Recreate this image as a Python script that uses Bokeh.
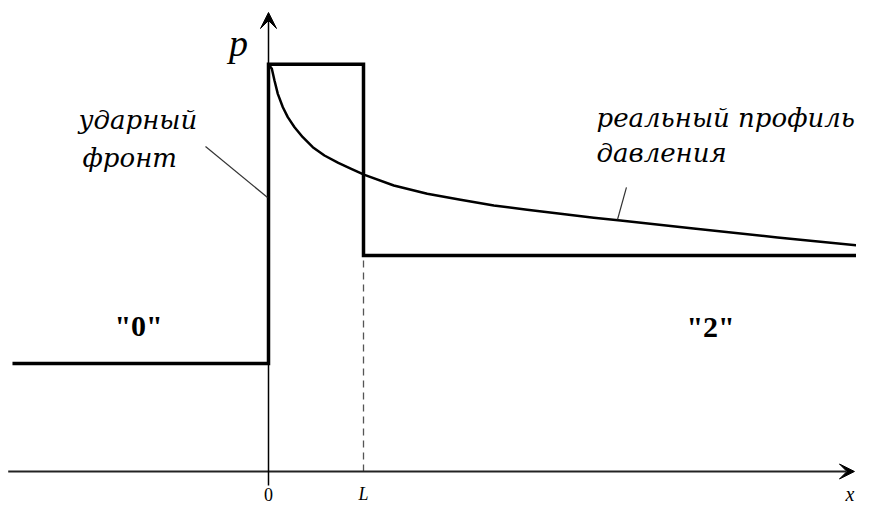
from bokeh.plotting import figure
from bokeh.models import Range1d, Arrow, VeeHead, Label
from bokeh.embed import file_html
from bokeh.resources import INLINE

# Idealised (step) profile: x in units of L, pressure in units of p0
x_step = [-2.695, 0.0, 0.0, 1.0, 1.0, 6.4]
p_step = [1.0, 1.0, 3.77, 3.77, 2.0, 2.0]

x_real = [0.0, 0.035, 0.063, 0.098, 0.151, 0.203, 0.274, 0.361, 0.466, 0.589,
          0.735, 0.871, 1.011, 1.319, 1.671, 2.021, 2.372, 2.723, 3.074, 3.424,
          3.705, 4.474, 5.358, 6.316]
p_real = [3.77, 3.729, 3.62, 3.497, 3.373, 3.281, 3.188, 3.095, 3.003, 2.926,
          2.858, 2.803, 2.747, 2.648, 2.571, 2.516, 2.463, 2.423, 2.386, 2.349,
          2.324, 2.25, 2.167, 2.083]

# Axes extents
x_axis = [-2.74, 6.168]
p_axis = [-0.13, 4.25]

# Dashed marker at x = L
x_L = [1.0, 1.0]
p_L = [0.0, 2.0]

# Leader lines for annotations
lead_shock_x = [-0.663, -0.01]
lead_shock_p = [3.009, 2.537]
lead_real_x = [3.768, 3.674]
lead_real_p = [2.63, 2.333]

# Texts
tick_labels = ["0", "L"]
tick_x = [0.0, 1.0]
region_labels = ['"0"', '"2"']
region_x = [-1.368, 4.653]
region_p = [1.35, 1.34]

SERIF = "Liberation Serif"
ITAL = "DejaVu Serif"

p = figure(width=856, height=506,
           x_range=Range1d(-2.8211, 6.1895), y_range=Range1d(-0.3241, 4.3611),
           x_axis_type=None, y_axis_type=None,
           output_backend="svg", toolbar_location=None, min_border=0)
p.grid.visible = False
p.outline_line_color = None
p.background_fill_color = "white"
p.border_fill_color = "white"

# dashed line at L
p.line(x_L, p_L, line_color="#555555", line_width=1.3, line_dash="7 5")

# axes with arrowheads
p.add_layout(Arrow(end=VeeHead(size=15, fill_color="black", line_color="black"),
                   x_start=x_axis[0], y_start=0.0, x_end=x_axis[1], y_end=0.0,
                   line_color="#222222", line_width=2))
p.add_layout(Arrow(end=VeeHead(size=16, fill_color="black", line_color="black"),
                   x_start=0.0, y_start=p_axis[0], x_end=0.0, y_end=p_axis[1],
                   line_color="black", line_width=1.5))

# profiles
p.line(x_step, p_step, line_color="black", line_width=3.5, line_join="miter")
p.line(x_real, p_real, line_color="black", line_width=2.5, line_join="round")

# leader lines
p.line(lead_shock_x, lead_shock_p, line_color="#333333", line_width=1.2)
p.line(lead_real_x, lead_real_p, line_color="#333333", line_width=1.2)

def lab(x, y, text, size, font=SERIF, style="italic", align="left",
        baseline="alphabetic"):
    p.add_layout(Label(x=x, y=y, text=text, text_font=font,
                       text_font_size=size, text_font_style=style,
                       text_align=align, text_baseline=baseline,
                       text_color="black"))

lab(-0.316, 3.972, "p", "38px", align="center")
lab(-2.0, 3.25, "ударный", "26px", font=ITAL)
lab(-1.958, 2.907, "фронт", "26px", font=ITAL)
lab(3.453, 3.27, "реальный профиль", "26px", font=ITAL)
lab(3.453, 2.945, "давления", "26px", font=ITAL)
for t, xv, pv in zip(region_labels, region_x, region_p):
    lab(xv, pv, t, "30px", style="bold", align="center")
lab(tick_x[0], -0.21, tick_labels[0], "18px", style="normal", align="center")
lab(tick_x[1], -0.21, tick_labels[1], "18px", style="italic", align="center")
lab(6.168, -0.21, "x", "20px", style="italic", align="right")

open("out.html", "w").write(file_html(p, INLINE))
